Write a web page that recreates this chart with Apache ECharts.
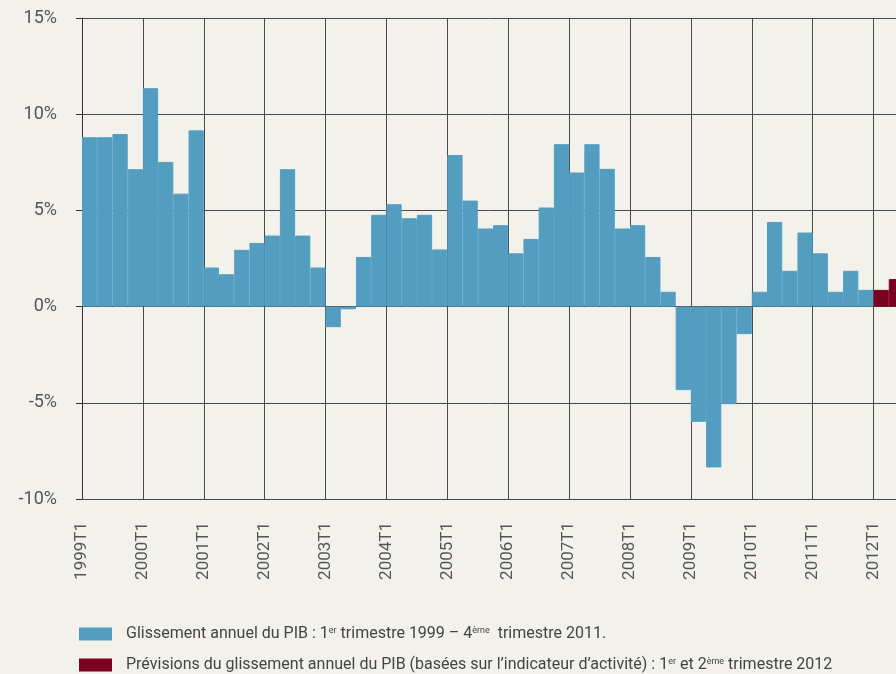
<!DOCTYPE html>
<html>
<head>
<meta charset="utf-8">
<script src="https://cdn.jsdelivr.net/npm/echarts@6/dist/echarts.min.js"></script>
<style>
  html, body { margin: 0; padding: 0; background: #f2f1eb; }
  #chart { width: 896px; height: 674px; }
</style>
</head>
<body>
<div id="chart"></div>
<script>
// quarters 1999T1 .. 2012T2
const years = [1999, 2000, 2001, 2002, 2003, 2004, 2005, 2006, 2007, 2008, 2009, 2010, 2011, 2012]
const quarters = []
years.forEach(y => { ['T1', 'T2', 'T3', 'T4'].forEach(q => quarters.push(y + q)) })
quarters.splice(54) // ends at 2012T2

const tickLabels = ['1999T1', '2000T1', '2001T1', '2002T1', '2003T1', '2004T1', '2005T1',
  '2006T1', '2007T1', '2008T1', '2009T1', '2010T1', '2011T1', '2012T1']

// glissement annuel du PIB, 1999T1 - 2011T4 (%)
const pibValues = [
  8.80, 8.80, 8.97, 7.14,
  11.35, 7.52, 5.87, 9.16,
  2.03, 1.68, 2.95, 3.31,
  3.69, 7.14, 3.69, 2.03,
  -1.07, -0.14, 2.58, 4.77,
  5.32, 4.59, 4.77, 2.97,
  7.88, 5.51, 4.06, 4.23,
  2.77, 3.52, 5.15, 8.44,
  6.97, 8.44, 7.16, 4.06,
  4.23, 2.58, 0.77, -4.34,
  -5.99, -8.36, -5.07, -1.43,
  0.77, 4.40, 1.86, 3.85,
  2.77, 0.77, 1.86, 0.87
]
// prévisions 2012T1 - 2012T2 (%)
const forecastValues = [0.87, 1.43]

const blueData = pibValues.concat(forecastValues.map(() => '-'))
const redData = pibValues.map(() => '-').concat(forecastValues)

const legendTexts = {
  pib: 'Glissement annuel du PIB : 1{sup|er} trimestre 1999 – 4{sup|ème}  trimestre 2011.',
  prev: 'Prévisions du glissement annuel du PIB (basées sur l’indicateur d’activité) : 1{sup|er} et 2{sup|ème} trimestre 2012'
}

const textColor = '#555'
const lineColor = '#4a4a4a'
const blue = '#539dc0'
const red = '#7b0021'

function makeLegend(name, top) {
  return {
    left: 79,
    top: top,
    padding: 0,
    itemWidth: 31,
    itemHeight: 11,
    icon: 'rect',
    selectedMode: false,
    textStyle: {
      color: '#444',
      fontSize: 16,
      padding: [0, 0, 0, 10],
      rich: {
        sup: { fontSize: 9, padding: [0, 0, 7, 0], color: '#444' }
      }
    },
    formatter(n) {
      return legendTexts[n]
    },
    data: [name]
  }
}

const chart = echarts.init(document.getElementById('chart'))
chart.setOption({
  backgroundColor: '#f2f1eb',
  animation: false,
  textStyle: { fontFamily: 'Roboto' },
  grid: {
    left: 82,
    width: 822,
    top: 18,
    bottom: 175,
    outerBoundsMode: 'none'
  },
  legend: [makeLegend('pib', 626), makeLegend('prev', 657)],
  xAxis: [{
    type: 'category',
    data: quarters,
    boundaryGap: true,
    axisLine: { show: false },
    axisTick: { show: false },
    axisLabel: { show: false },
    splitLine: { show: false }
  }, {
    type: 'value',
    min: 0,
    max: quarters.length,
    interval: 4,
    position: 'bottom',
    axisLine: { show: true, lineStyle: { color: lineColor, width: 1 } },
    axisTick: { show: false },
    splitLine: { show: true, lineStyle: { color: lineColor, width: 1 } },
    axisLabel: {
      rotate: 90,
      margin: 23,
      color: textColor,
      fontSize: 17,
      showMaxLabel: false,
      formatter(v) {
        return tickLabels[v / 4] || ''
      }
    }
  }],
  yAxis: {
    type: 'value',
    min: -10,
    max: 15,
    interval: 5,
    axisLine: { show: true, lineStyle: { color: '#333', width: 1 } },
    axisTick: { show: true, length: 6, lineStyle: { color: '#333' } },
    splitLine: { show: true, lineStyle: { color: lineColor, width: 1 } },
    axisLabel: {
      margin: 25,
      color: textColor,
      fontSize: 18,
      formatter: '{value}%'
    }
  },
  series: [{
    name: 'pib',
    type: 'bar',
    xAxisIndex: 0,
    barCategoryGap: '0%',
    barGap: '-100%',
    data: blueData,
    itemStyle: { color: blue, borderColor: blue, borderWidth: 1 },
    z: 3
  }, {
    name: 'prev',
    type: 'bar',
    xAxisIndex: 0,
    barCategoryGap: '0%',
    barGap: '-100%',
    data: redData,
    itemStyle: { color: red, borderColor: red, borderWidth: 1 },
    z: 3
  }]
})
</script>
</body>
</html>
